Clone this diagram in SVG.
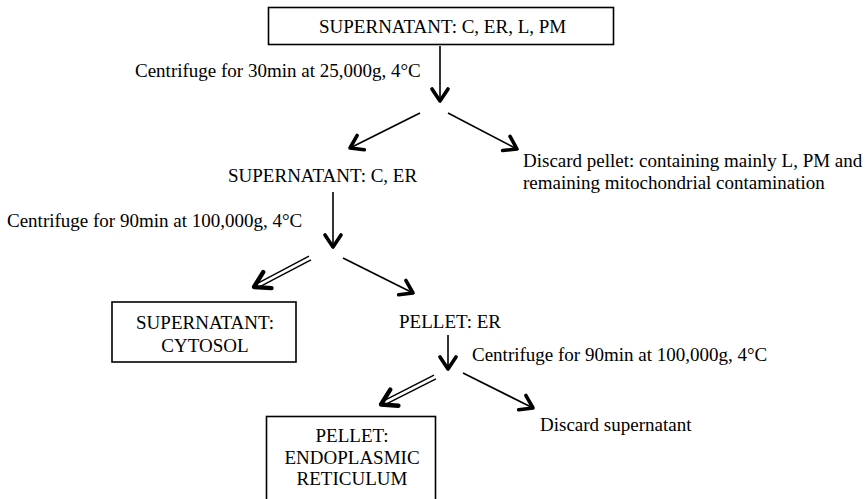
<svg xmlns="http://www.w3.org/2000/svg" width="867" height="499" viewBox="0 0 867 499">
<style>
text{font-family:"Liberation Serif","Times New Roman",serif;font-size:19px;fill:#000}
.box{fill:#fff;stroke:#000;stroke-width:1.6}
.ln{stroke:#000;stroke-width:1.6;fill:none}
.dl{stroke:#000;stroke-width:1.4;fill:none}
.mid{text-anchor:middle}
</style>
<defs>
<marker id="ah" markerUnits="userSpaceOnUse" markerWidth="30" markerHeight="30" refX="0" refY="0" viewBox="-16 -15 20 30" orient="auto" overflow="visible">
<path d="M-12,-8 L0,0 L-12,8" fill="none" stroke="#000" stroke-width="3.6" stroke-linecap="round" stroke-linejoin="round"/>
</marker>
<marker id="ah2" markerUnits="userSpaceOnUse" markerWidth="40" markerHeight="40" refX="0" refY="0" viewBox="-20 -20 25 40" orient="auto" overflow="visible">
<path d="M-15,-9 L0,0 L-15,9" fill="none" stroke="#000" stroke-width="4.4" stroke-linecap="round" stroke-linejoin="round"/>
</marker>
</defs>
<rect width="867" height="499" fill="#fff"/>
<g id="connectors">
<line class="ln" x1="440" y1="46" x2="440" y2="101" marker-end="url(#ah)"/>
<line class="ln" x1="420" y1="113" x2="350" y2="148" marker-end="url(#ah)"/>
<line class="ln" x1="448" y1="113" x2="517" y2="149" marker-end="url(#ah)"/>
<line class="ln" x1="333" y1="192" x2="333" y2="247" marker-end="url(#ah)"/>
<line class="dl" x1="311" y1="259.8" x2="259" y2="287.2"/>
<line class="dl" x1="309" y1="256.2" x2="257" y2="283.6"/>
<line x1="310" y1="258" x2="254" y2="287" stroke="none" marker-end="url(#ah2)"/>
<line class="ln" x1="343" y1="258" x2="413" y2="293" marker-end="url(#ah)"/>
<line class="ln" x1="448" y1="335" x2="448" y2="369" marker-end="url(#ah)"/>
<line class="dl" x1="436" y1="378.8" x2="386" y2="404.2"/>
<line class="dl" x1="434" y1="375.2" x2="384" y2="400.6"/>
<line x1="435" y1="377" x2="381" y2="404.5" stroke="none" marker-end="url(#ah2)"/>
<line class="ln" x1="463" y1="373" x2="533" y2="408" marker-end="url(#ah)"/>
</g>
<g id="n-top">
<rect class="box" x="268.5" y="7.5" width="345" height="37"/>
<text x="319" y="33">SUPERNATANT: C, ER, L, PM</text>
</g>
<g id="l-cent1"><text x="135" y="77">Centrifuge for 30min at 25,000g, 4°C</text></g>
<g id="n-super2"><text x="228" y="182">SUPERNATANT: C, ER</text></g>
<g id="n-discard1">
<text x="523" y="167">Discard pellet: containing mainly L, PM and</text>
<text x="523" y="189">remaining mitochondrial contamination</text>
</g>
<g id="l-cent2"><text x="7" y="227">Centrifuge for 90min at 100,000g, 4°C</text></g>
<g id="n-cytosol">
<rect class="box" x="112" y="302" width="184" height="60"/>
<text class="mid" x="205" y="329">SUPERNATANT:</text>
<text class="mid" x="205" y="352">CYTOSOL</text>
</g>
<g id="n-pelleter"><text x="399" y="328">PELLET: ER</text></g>
<g id="l-cent3"><text x="472" y="361">Centrifuge for 90min at 100,000g, 4°C</text></g>
<g id="n-discard2"><text x="540" y="431">Discard supernatant</text></g>
<g id="n-er">
<rect class="box" x="266.5" y="416.5" width="169" height="90"/>
<text class="mid" x="352" y="442">PELLET:</text>
<text class="mid" x="352" y="464">ENDOPLASMIC</text>
<text class="mid" x="352" y="485">RETICULUM</text>
</g>
</svg>
